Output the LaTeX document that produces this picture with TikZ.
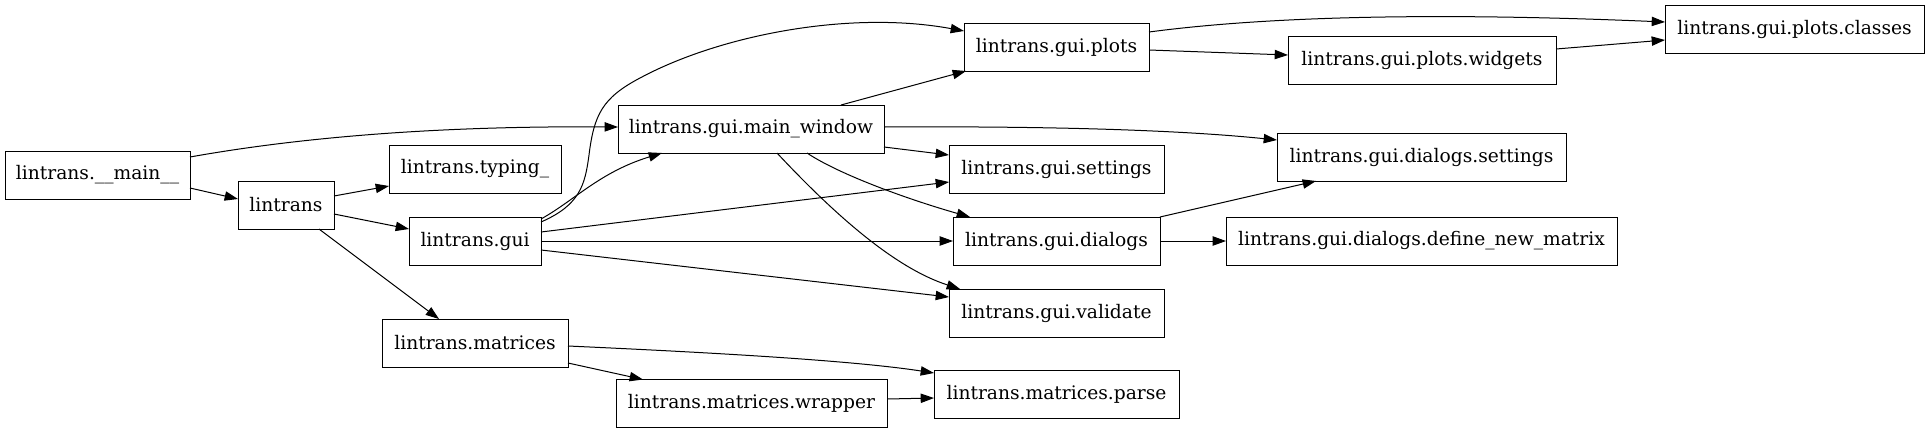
\documentclass[tikz,border=0pt]{standalone}
\usepackage{fontspec}
\setmainfont{DejaVu Serif}
\usetikzlibrary{arrows.meta,calc}
\begin{document}
\begin{tikzpicture}[x=0.75pt,y=-0.75pt,
  mod/.style={draw, line width=0.75pt, minimum height=36pt, inner sep=0pt, outer sep=0pt,
    font=\fontsize{14pt}{16pt}\selectfont},
  edge/.style={line width=0.75pt, -{Triangle[length=10pt,width=7pt]}}]
\fill[white] (0,0) rectangle (1929,433);
\useasboundingbox (0,0) rectangle (1929,433);
% nodes
\node[mod, minimum width=185*0.75pt] (main) at (97.5,175) {lintrans.\_\_main\_\_};
\node[mod, minimum width=96*0.75pt] (lin) at (286,205) {lintrans};
\node[mod, minimum width=172*0.75pt] (typ) at (475,169) {lintrans.typing\_};
\node[mod, minimum width=132*0.75pt] (gui) at (475,241) {lintrans.gui};
\node[mod, minimum width=186*0.75pt] (mat) at (475,343) {lintrans.matrices};
\node[mod, minimum width=266*0.75pt] (mw) at (751,129) {lintrans.gui.main\_window};
\node[mod, minimum width=271*0.75pt] (wr) at (751.5,403.5) {lintrans.matrices.wrapper};
\node[mod, minimum width=185*0.75pt] (plots) at (1056.5,47) {lintrans.gui.plots};
\node[mod, minimum width=215*0.75pt] (set) at (1056.5,169) {lintrans.gui.settings};
\node[mod, minimum width=207*0.75pt] (dlg) at (1056.5,241) {lintrans.gui.dialogs};
\node[mod, minimum width=215*0.75pt] (val) at (1056.5,313) {lintrans.gui.validate};
\node[mod, minimum width=245*0.75pt] (parse) at (1056.5,394) {lintrans.matrices.parse};
\node[mod, minimum width=268*0.75pt] (wid) at (1422,60) {lintrans.gui.plots.widgets};
\node[mod, minimum width=289*0.75pt] (dset) at (1421.5,157) {lintrans.gui.dialogs.settings};
\node[mod, minimum width=391*0.75pt] (dnm) at (1421.5,241) {lintrans.gui.dialogs.define\_new\_matrix};
\node[mod, minimum width=259*0.75pt] (cls) at (1794.5,29) {lintrans.gui.plots.classes};
% edges
\draw[edge] ($(main.east)+(0,-18)$) .. controls (330,132) and (480,126) .. ($(mw.west)+(0,-2)$);
\draw[edge] ($(main.east)+(0,13)$) -- ($(lin.west)+(0,-6)$);
\draw[edge] ($(lin.east)+(0,-9)$) -- ($(typ.west)+(0,17)$);
\draw[edge] ($(lin.east)+(0,9)$) -- ($(gui.west)+(0,-12)$);
\draw[edge] ($(lin.south)+(33,0)$) -- ($(mat.north)+(-36,0)$);
\draw[edge] ($(gui.east)+(0,-19)$) .. controls (580,205) and (585,185) .. (589,155)
  .. controls (594,115) and (602,98) .. (640,78)
  .. controls (720,35) and (850,10) .. ($(plots.west)+(0,-16)$);
\draw[edge] ($(gui.east)+(0,-22)$) .. controls (575,200) and (600,172) .. ($(mw.south)+(-89,0)$);
\draw[edge] ($(gui.east)+(0,-9)$) -- ($(set.west)+(0,13)$);
\draw[edge] (gui.east) -- (dlg.west);
\draw[edge] ($(gui.east)+(0,9)$) -- ($(val.west)+(0,-16)$);
\draw[edge] ($(mat.east)+(0,3)$) .. controls (700,352) and (850,360) .. ($(parse.west)+(0,-21)$);
\draw[edge] ($(mat.east)+(0,20)$) -- ($(wr.north)+(-108.5,0)$);
\draw[edge] ($(wr.east)+(0,-4.5)$) -- ($(parse.west)+(0,4)$);
\draw[edge] ($(mw.north)+(90,0)$) -- ($(plots.south west)+(2,0)$);
\draw[edge] ($(mw.east)+(0,-2)$) .. controls (1050,126) and (1180,130) .. ($(dset.west)+(0,-17)$);
\draw[edge] ($(mw.east)+(0,18)$) -- ($(set.west)+(0,-14)$);
\draw[edge] ($(mw.south)+(56,0)$) .. controls (840,175) and (910,200) .. ($(dlg.north)+(-86.5,0)$);
\draw[edge] ($(mw.south)+(26,0)$) .. controls (835,215) and (895,268) .. ($(val.north west)+(11,0)$);
\draw[edge] ($(plots.east)+(0,-15)$) .. controls (1300,12) and (1500,15) .. ($(cls.west)+(0,-7)$);
\draw[edge] ($(plots.east)+(0,3)$) -- ($(wid.west)+(0,-5)$);
\draw[edge] ($(wid.east)+(0,-11)$) -- ($(cls.west)+(0,11)$);
\draw[edge] (dlg.north east) -- ($(dset.south)+(-105.5,0)$);
\draw[edge] (dlg.east) -- (dnm.west);
\end{tikzpicture}
\end{document}
